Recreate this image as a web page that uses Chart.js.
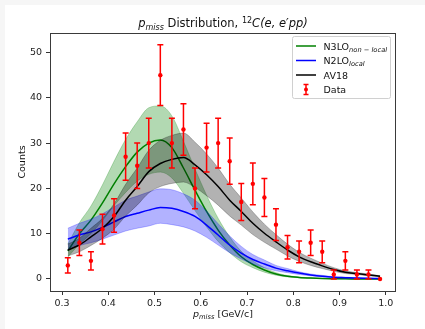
<!DOCTYPE html>
<html><head><meta charset="utf-8">
<script src="https://cdn.jsdelivr.net/npm/chart.js@4/dist/chart.umd.min.js"></script>
<style>html,body{margin:0;padding:0;background:#fff;overflow:hidden}canvas{display:block}</style>
</head><body>
<canvas id="c" width="425" height="329"></canvas>
<script>
// ---- data ----
const binCenters = [0.3125,0.3375,0.3625,0.3875,0.4125,0.4375,0.4625,0.4875,0.5125,0.5375,0.5625,0.5875,0.6125,0.6375,0.6625,0.6875,0.7125,0.7375,0.7625,0.7875,0.8125,0.8375,0.8625,0.8875,0.9125,0.9375,0.9625,0.9875];
const dataCounts = [3,8,4,11,14,27,25,30,45,30,33,20,29,30,26,17,21,18,12,7,6,8,6,1,4,1,1,0];
const dataErrors = [1.7,2.8,2.0,3.3,3.7,5.2,5.0,5.5,6.7,5.5,5.7,4.5,5.4,5.5,5.1,4.1,4.6,4.2,3.5,2.6,2.4,2.8,2.4,1.0,2.0,1.0,1.0,0];

const n3lo      = [6.2,10,13,16.8,21,24.8,28,30,30.7,29,24.5,19.6,14.9,10.8,7.5,4.9,3.2,2.0,1.1,0.6,0.35,0.2,0.1,0.06,0.03,0.02,0.01,0.01];
const n3loHigh  = [7.7,12.4,16.1,20.8,26.0,30.8,34.7,37.8,38.2,36.0,30.4,24.3,18.5,13.4,9.3,6.1,4.0,2.5,1.4,0.75,0.43,0.25,0.12,0.07,0.04,0.02,0.01,0.01];
const n3loLow   = [4.8,7.7,10.0,12.9,16.2,19.1,21.6,23.1,23.6,22.3,18.9,15.1,11.5,8.3,5.8,3.8,2.5,1.5,0.85,0.46,0.27,0.15,0.08,0.05,0.02,0.015,0.01,0.01];

const n2lo      = [8.8,9.7,10.4,11.4,12.6,13.8,14.5,15.2,15.8,15.6,14.9,13.8,11.9,9.7,7.5,5.7,4.3,3.3,2.4,1.8,1.3,0.9,0.6,0.4,0.3,0.2,0.15,0.1];
const n2loHigh  = [11.2,12.3,13.2,14.4,15.9,17.4,18.3,19.2,19.9,19.7,18.8,17.4,15.0,12.2,9.5,7.2,5.4,4.2,3.0,2.3,1.6,1.1,0.8,0.5,0.4,0.25,0.19,0.13];
const n2loLow   = [6.5,7.4,8.0,8.8,9.7,10.6,11.2,11.7,12.3,12.0,11.5,10.6,9.2,7.5,5.8,4.4,3.3,2.5,1.8,1.4,1.0,0.7,0.5,0.3,0.23,0.15,0.12,0.08];

const av18      = [6.4,7.5,9.3,11.2,13.8,17.4,20.4,23.7,25.5,26.4,26.8,25.2,23.0,20.4,17.4,14.9,12.3,10.1,8.2,6.4,4.9,3.8,2.9,2.1,1.5,1.2,0.9,0.6];
const av18High  = [7.7,9.0,11.2,13.4,16.6,20.9,24.5,28.4,30.6,31.7,32.2,30.2,27.6,24.5,20.9,17.9,14.8,12.1,9.8,7.7,5.9,4.6,3.5,2.5,1.8,1.4,1.1,0.7];
const av18Low   = [5.1,6.0,7.4,9.0,11.0,13.9,16.3,19.0,20.4,21.1,21.4,20.2,18.4,16.3,13.9,11.9,9.8,8.1,6.6,5.1,3.9,3.0,2.3,1.7,1.2,1.0,0.7,0.5];

const xTicks = [0.3,0.4,0.5,0.6,0.7,0.8,0.9,1.0];
const yTicks = [0,10,20,30,40,50];

// ---- helpers ----
const FONT = "'DejaVu Sans', 'Liberation Sans', sans-serif";
const pts = arr => arr.map((v,i)=>({x:binCenters[i], y:v}));

function band(arrHi, arrLo, color, order){
  return [
    {data:pts(arrHi), borderColor:color, borderWidth:0.8, backgroundColor:color, fill:'+1', pointRadius:0, cubicInterpolationMode:'monotone', order:order},
    {data:pts(arrLo), borderColor:color, borderWidth:0.8, fill:false, pointRadius:0, cubicInterpolationMode:'monotone', order:order}
  ];
}
function line(arr, color, order){
  return {data:pts(arr), borderColor:color, borderWidth:1.5, fill:false, pointRadius:0, cubicInterpolationMode:'monotone', order:order};
}

function drawRich(ctx, parts, x, y, align){
  let w = 0;
  parts.forEach(p=>{ ctx.font = (p.it?'italic ':'') + p.s + 'px ' + FONT; p.w = ctx.measureText(p.t).width; w += p.w; });
  let cx = align==='center' ? x - w/2 : x;
  ctx.textBaseline = 'alphabetic'; ctx.textAlign = 'left';
  parts.forEach(p=>{ ctx.font = (p.it?'italic ':'') + p.s + 'px ' + FONT; ctx.fillText(p.t, cx, y + (p.dy||0)); cx += p.w; });
}

const decor = {
  id:'decor',
  beforeDraw(chart){
    const c = chart.ctx;
    c.save();
    c.fillStyle = '#f6f6f6'; c.fillRect(0,0,chart.width,chart.height);
    c.fillStyle = '#ffffff'; c.fillRect(5,5,chart.width-5,chart.height-5);
    c.restore();
  },
  afterDatasetsDraw(chart){
    const c = chart.ctx, xs = chart.scales.x, ys = chart.scales.y;
    c.save();
    c.strokeStyle = '#ff0000'; c.lineWidth = 1.5;
    binCenters.forEach((xv,i)=>{
      const e = dataErrors[i]; if(!e) return;
      const px = xs.getPixelForValue(xv);
      const t = ys.getPixelForValue(dataCounts[i]+e), b = ys.getPixelForValue(dataCounts[i]-e);
      c.beginPath();
      c.moveTo(px,t); c.lineTo(px,b);
      c.moveTo(px-3,t); c.lineTo(px+3,t);
      c.moveTo(px-3,b); c.lineTo(px+3,b);
      c.stroke();
    });
    c.restore();
  },
  afterDraw(chart){
    const c = chart.ctx, a = chart.chartArea;
    c.save();
    // frame
    c.strokeStyle = '#3a3a3a'; c.lineWidth = 1;
    c.strokeRect(a.left+0.5, a.top+0.5, a.right-a.left-1, a.bottom-a.top);
    // title
    c.fillStyle = '#111';
    drawRich(c, [{t:'p',it:1,s:11.5},{t:'miss',it:1,s:8,dy:2.5},{t:' Distribution, ',s:11.5},{t:'12',s:8,dy:-4.5},{t:'C(e, e\u2032pp)',it:1,s:11.5}], (a.left+a.right)/2, 27, 'center');
    // x label
    drawRich(c, [{t:'p',it:1,s:9.5},{t:'miss',it:1,s:6.7,dy:2},{t:' [GeV/c]',s:9.5}], (a.left+a.right)/2, 317, 'center');
    // y label
    c.save(); c.translate(25,(a.top+a.bottom)/2); c.rotate(-Math.PI/2);
    c.font = '9.5px ' + FONT; c.textAlign='center'; c.textBaseline='alphabetic';
    c.fillText('Counts',0,0);
    c.restore();
    // legend
    const lx = 292.5, ly = 36.5, lw = 98, lh = 62;
    c.fillStyle = 'rgba(255,255,255,0.85)'; c.strokeStyle = '#d0d0d0'; c.lineWidth = 1;
    c.beginPath(); c.roundRect(lx, ly, lw, lh, 2); c.fill(); c.stroke();
    const rows = [
      {col:'#008000', parts:[{t:'N3LO',s:9.5},{t:'non \u2212 local',it:1,s:6.7,dy:2}]},
      {col:'#0000ff', parts:[{t:'N2LO',s:9.5},{t:'local',it:1,s:6.7,dy:2}]},
      {col:'#000000', parts:[{t:'AV18',s:9.5}]},
      {col:null, parts:[{t:'Data',s:9.5}]}
    ];
    rows.forEach((r,i)=>{
      const y = 46 + i*14.5;
      if(r.col){
        c.strokeStyle = r.col; c.lineWidth = 1.5;
        c.beginPath(); c.moveTo(296,y); c.lineTo(316,y); c.stroke();
      } else {
        c.strokeStyle = '#ff0000'; c.fillStyle = '#ff0000'; c.lineWidth = 1.5;
        c.beginPath(); c.moveTo(306,y-5); c.lineTo(306,y+5);
        c.moveTo(303.5,y-5); c.lineTo(308.5,y-5); c.moveTo(303.5,y+5); c.lineTo(308.5,y+5); c.stroke();
        c.beginPath(); c.arc(306,y,2,0,Math.PI*2); c.fill();
      }
      c.fillStyle = '#111';
      drawRich(c, r.parts, 323.5, y+3.5, 'left');
    });
    c.restore();
  }
};

const datasets = [
  ...band(n3loHigh, n3loLow, 'rgba(0,128,0,0.3)', 9),
  line(n3lo, '#008000', 8),
  ...band(n2loHigh, n2loLow, 'rgba(0,0,255,0.3)', 7),
  line(n2lo, '#0000ff', 6),
  ...band(av18High, av18Low, 'rgba(0,0,0,0.3)', 5),
  line(av18, '#000000', 4),
  {data:pts(dataCounts), showLine:false, pointRadius:2.2, pointBackgroundColor:'#ff0000', pointBorderColor:'#ff0000', pointBorderWidth:0, order:1}
];

const axisCommon = {
  grid:{drawOnChartArea:false, drawTicks:true, tickLength:4, color:'#333', tickWidth:1},
  border:{display:false},
};

new Chart(document.getElementById('c').getContext('2d'), {
  type:'line',
  data:{datasets},
  options:{
    responsive:false, animation:false, devicePixelRatio:1,
    layout:{padding:{left:0, top:33, right:29, bottom:0}},
    plugins:{legend:{display:false}, tooltip:{enabled:false}, title:{display:false}},
    scales:{
      x:{type:'linear', min:0.274, max:1.022, ...axisCommon,
         afterFit(s){ s.height = 38; },
         afterBuildTicks(s){ s.ticks = xTicks.map(v=>({value:v})); },
         ticks:{font:{family:FONT, size:9.5}, color:'#222', padding:3, maxRotation:0, autoSkip:false, callback:v=>Number(v).toFixed(1)}},
      y:{type:'linear', min:-2.65, max:54.3, ...axisCommon,
         afterFit(s){ s.width = 50; },
         afterBuildTicks(s){ s.ticks = yTicks.map(v=>({value:v})); },
         ticks:{font:{family:FONT, size:9.5}, color:'#222', padding:4, autoSkip:false, callback:v=>String(v)}}
    }
  },
  plugins:[decor]
});
</script>
</body></html>
